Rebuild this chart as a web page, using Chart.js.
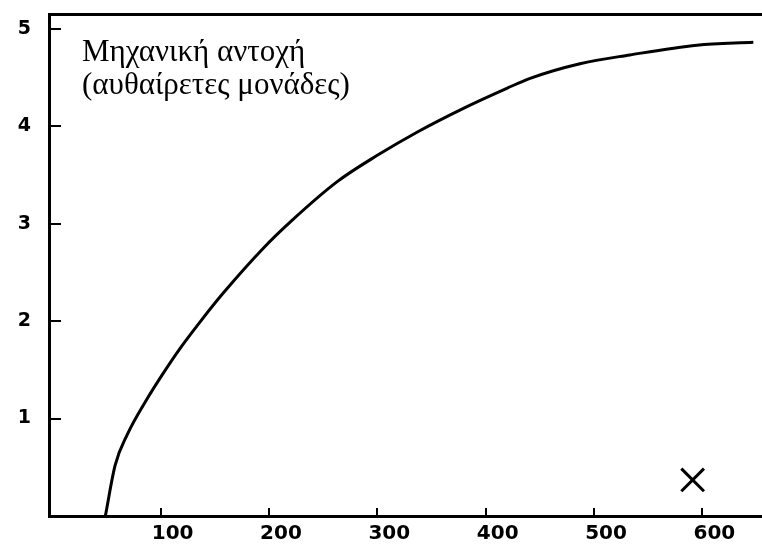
<!DOCTYPE html>
<html>
<head>
<meta charset="utf-8">
<script src="https://cdn.jsdelivr.net/npm/chart.js@4.4.1/dist/chart.umd.min.js"></script>
<style>
  html, body { margin: 0; padding: 0; background: #fff; overflow: hidden; }
  canvas { display: block; }
</style>
</head>
<body>
<canvas id="strength" width="762" height="544"></canvas>
<script>
// strength curve
var strengthX = [49, 58, 69, 88, 101, 118, 137, 158, 195, 220, 263, 300, 337, 379, 420, 441, 487, 533, 595, 647];
var strengthY = [0, 0.52, 0.83, 1.21, 1.44, 1.72, 2.0, 2.29, 2.75, 3.02, 3.43, 3.7, 3.94, 4.18, 4.39, 4.49, 4.64, 4.73, 4.83, 4.86];
// the lone "x" mark near the axis
var markX = [591];
var markY = [0.37];
var xTicks = [100, 200, 300, 400, 500, 600];
var yTicks = [1, 2, 3, 4, 5];
var titleLines = ['Μηχανική αντοχή', '(αυθαίρετες μονάδες)'];

function zip(xs, ys) {
    return xs.map(function(x, i) { return {x: x, y: ys[i]}; });
}

// axis caption written inside the plot, top left
var captionPlugin = {
    id: 'caption',
    afterDraw: function(chart) {
        var ctx = chart.ctx;
        var area = chart.chartArea;
        ctx.save();
        ctx.fillStyle = '#000';
        ctx.font = '31px "Liberation Serif", "Times New Roman", serif';
        ctx.textAlign = 'left';
        ctx.textBaseline = 'alphabetic';
        titleLines.forEach(function(line, i) {
            ctx.fillText(line, area.left + 33, area.top + 47 + i * 33);
        });
        ctx.restore();
    }
};

var xFont = {family: '"DejaVu Sans", sans-serif', size: 20, weight: 'bold'};
var yFont = {family: '"DejaVu Sans", sans-serif', size: 19, weight: 'bold'};

new Chart(document.getElementById('strength'), {
    type: 'scatter',
    data: {
        datasets: [{
            data: zip(strengthX, strengthY),
            showLine: true,
            borderColor: '#000',
            borderWidth: 3,
            pointRadius: 0,
            cubicInterpolationMode: 'monotone'
        }, {
            data: zip(markX, markY),
            pointStyle: 'crossRot',
            pointRadius: 16,
            borderColor: '#000',
            borderWidth: 3
        }]
    },
    options: {
        responsive: false,
        animation: false,
        layout: {autoPadding: false, padding: {top: 14, right: 0, left: 0, bottom: 0}},
        plugins: {legend: {display: false}, tooltip: {enabled: false}},
        scales: {
            x: {
                type: 'linear',
                min: -3,
                max: 655,
                afterBuildTicks: function(scale) {
                    scale.ticks = xTicks.map(function(v) { return {value: v}; });
                },
                afterFit: function(scale) {
                    scale.height = 28;
                    scale.paddingLeft = 0;
                    scale.paddingRight = 0;
                },
                border: {display: true, color: '#000', width: 3},
                grid: {drawOnChartArea: false, color: '#000', lineWidth: 2, tickLength: -8},
                ticks: {color: '#000', font: xFont, padding: 14, labelOffset: 12, maxRotation: 0}
            },
            xTop: {
                type: 'linear',
                position: 'top',
                min: -3,
                max: 655,
                afterFit: function(scale) { scale.height = 0; },
                border: {display: true, color: '#000', width: 3},
                grid: {display: false},
                ticks: {display: false}
            },
            y: {
                min: 0,
                max: 5.15,
                afterBuildTicks: function(scale) {
                    scale.ticks = yTicks.map(function(v) { return {value: v}; });
                },
                afterFit: function(scale) {
                    // labels sit beside the axis, no extra room above or below
                    scale.width = 49;
                    scale.paddingTop = 0;
                    scale.paddingBottom = 0;
                },
                border: {display: true, color: '#000', width: 3},
                grid: {drawOnChartArea: false, color: '#000', lineWidth: 2, tickLength: -12},
                ticks: {color: '#000', font: yFont, padding: 30}
            }
        }
    },
    plugins: [captionPlugin]
});
</script>
</body>
</html>
